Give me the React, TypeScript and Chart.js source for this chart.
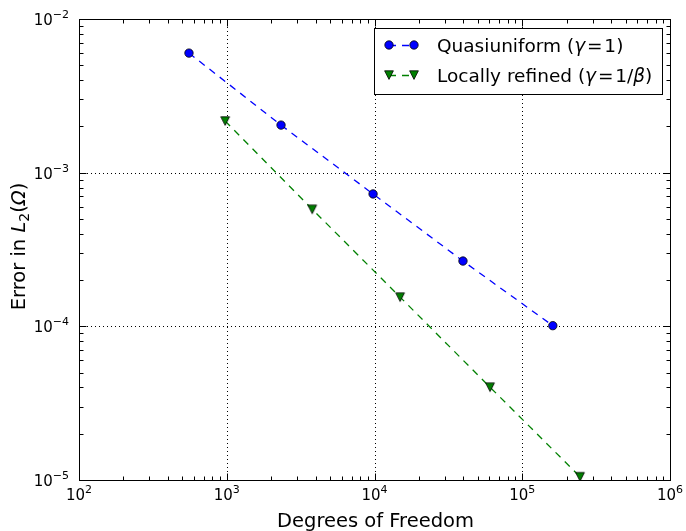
import React, { useEffect, useRef } from 'react';
import { Chart, registerables } from 'chart.js';

Chart.register(...registerables);

// ---- data ----
const dofQuasi = [555, 2330, 9780, 39700, 161000];
const errQuasi = [6.0e-3, 2.04e-3, 7.27e-4, 2.66e-4, 1.01e-4];
const dofLocal = [975, 3790, 14900, 60500, 246000];
const errLocal = [2.17e-3, 5.78e-4, 1.55e-4, 4.02e-5, 1.05e-5];
const xExponents = [2, 3, 4, 5, 6];
const yExponents = [-2, -3, -4, -5];
const xTitle = 'Degrees of Freedom';
const legendQuasi = [
  { t: 'Quasiuniform (', it: false },
  { t: 'γ', it: true },
  { t: '\u200A=\u200A1)', it: false },
];
const legendLocal = [
  { t: 'Locally refined (', it: false },
  { t: 'γ', it: true },
  { t: '\u200A=\u200A1/', it: false },
  { t: 'β', it: true },
  { t: ')', it: false },
];
const yTitle = [
  { t: 'Error in ', it: false, sub: false },
  { t: 'L', it: true, sub: false },
  { t: '2', it: false, sub: true },
  { t: '(', it: false, sub: false },
  { t: 'Ω', it: true, sub: false },
  { t: ')', it: false, sub: false },
];

const FONT = '"DejaVu Sans", sans-serif';
const BLUE = '#0000ff';
const GREEN = '#008000';

function makeTriangle(): HTMLCanvasElement {
  const c = document.createElement('canvas');
  c.width = 12;
  c.height = 12;
  const g = c.getContext('2d')!;
  g.beginPath();
  g.moveTo(1.6, 1.8);
  g.lineTo(10.4, 1.8);
  g.lineTo(6, 10.4);
  g.closePath();
  g.fillStyle = GREEN;
  g.fill();
  g.strokeStyle = '#000';
  g.lineWidth = 0.8;
  g.stroke();
  return c;
}

function drawPow(ctx: CanvasRenderingContext2D, exp: number, x: number, y: number, align: 'center' | 'right') {
  const base = '10';
  const sup = exp < 0 ? '\u2212' + String(-exp) : String(exp);
  const fb = `15px ${FONT}`;
  const fs = `11px ${FONT}`;
  ctx.font = fb;
  const wb = ctx.measureText(base).width;
  ctx.font = fs;
  const ws = ctx.measureText(sup).width;
  const total = wb + ws;
  const x0 = align === 'center' ? x - total / 2 : x - total;
  ctx.textAlign = 'left';
  ctx.textBaseline = 'alphabetic';
  ctx.fillStyle = '#000';
  ctx.font = fb;
  ctx.fillText(base, x0, y);
  ctx.font = fs;
  ctx.fillText(sup, x0 + wb, y - 7);
}

function drawRuns(ctx: CanvasRenderingContext2D, runs: { t: string; it: boolean; sub?: boolean }[], x: number, y: number, size: number, align: 'left' | 'center') {
  const fontFor = (r: { it: boolean; sub?: boolean }) =>
    `${r.it ? 'italic ' : ''}${r.sub ? Math.round(size * 0.7) : size}px ${FONT}`;
  let total = 0;
  runs.forEach((r) => {
    ctx.font = fontFor(r);
    total += ctx.measureText(r.t).width;
  });
  let cx = align === 'center' ? x - total / 2 : x;
  ctx.textAlign = 'left';
  ctx.textBaseline = 'alphabetic';
  ctx.fillStyle = '#000';
  runs.forEach((r) => {
    ctx.font = fontFor(r);
    ctx.fillText(r.t, cx, y + (r.sub ? size * 0.22 : 0));
    cx += ctx.measureText(r.t).width;
  });
}

const decorPlugin = {
  id: 'mplDecor',
  beforeDatasetsDraw(chart: any) {
    const { ctx, chartArea: a, scales } = chart;
    const xs = scales.x;
    const ys = scales.y;
    ctx.save();
    ctx.strokeStyle = '#000';
    ctx.lineWidth = 1;
    ctx.setLineDash([1, 3]);
    xExponents.forEach((e) => {
      const px = Math.round(xs.getPixelForValue(Math.pow(10, e))) + 0.5;
      if (px <= a.left + 2 || px >= a.right - 2) return;
      ctx.beginPath();
      ctx.moveTo(px, a.top);
      ctx.lineTo(px, a.bottom);
      ctx.stroke();
    });
    yExponents.forEach((e) => {
      const py = Math.round(ys.getPixelForValue(Math.pow(10, e))) + 0.5;
      if (py <= a.top + 2 || py >= a.bottom - 2) return;
      ctx.beginPath();
      ctx.moveTo(a.left, py);
      ctx.lineTo(a.right, py);
      ctx.stroke();
    });
    ctx.restore();
  },
  afterDraw(chart: any) {
    const { ctx, chartArea: a, scales } = chart;
    const xs = scales.x;
    const ys = scales.y;
    const L = Math.round(a.left) + 0.5;
    const R = Math.round(a.right) + 0.5;
    const T = Math.round(a.top) + 0.5;
    const B = Math.round(a.bottom) + 0.5;
    ctx.save();
    ctx.strokeStyle = '#000';
    ctx.lineWidth = 1;
    ctx.setLineDash([]);
    ctx.strokeRect(L, T, R - L, B - T);

    const MAJ = 7;
    const MIN = 4;
    // x ticks
    for (let i = 0; i < xExponents.length; i++) {
      const e = xExponents[i];
      const px = Math.round(xs.getPixelForValue(Math.pow(10, e))) + 0.5;
      ctx.beginPath();
      ctx.moveTo(px, B); ctx.lineTo(px, B - MAJ);
      ctx.moveTo(px, T); ctx.lineTo(px, T + MAJ);
      ctx.stroke();
      if (i < xExponents.length - 1) {
        for (let k = 2; k <= 9; k++) {
          const mx = Math.round(xs.getPixelForValue(k * Math.pow(10, e))) + 0.5;
          ctx.beginPath();
          ctx.moveTo(mx, B); ctx.lineTo(mx, B - MIN);
          ctx.moveTo(mx, T); ctx.lineTo(mx, T + MIN);
          ctx.stroke();
        }
      }
      drawPow(ctx, e, xs.getPixelForValue(Math.pow(10, e)), a.bottom + 20, 'center');
    }
    // y ticks
    const ySorted = [...yExponents].sort((p, q) => p - q);
    for (let i = 0; i < ySorted.length; i++) {
      const e = ySorted[i];
      const py = Math.round(ys.getPixelForValue(Math.pow(10, e))) + 0.5;
      ctx.beginPath();
      ctx.moveTo(L, py); ctx.lineTo(L + MAJ, py);
      ctx.moveTo(R, py); ctx.lineTo(R - MAJ, py);
      ctx.stroke();
      if (i < ySorted.length - 1) {
        for (let k = 2; k <= 9; k++) {
          const my = Math.round(ys.getPixelForValue(k * Math.pow(10, e))) + 0.5;
          ctx.beginPath();
          ctx.moveTo(L, my); ctx.lineTo(L + MIN, my);
          ctx.moveTo(R, my); ctx.lineTo(R - MIN, my);
          ctx.stroke();
        }
      }
      drawPow(ctx, e, a.left - 10, ys.getPixelForValue(Math.pow(10, e)) + 6, 'right');
    }

    // axis titles
    drawRuns(ctx, [{ t: xTitle, it: false }], (a.left + a.right) / 2 + 1, a.bottom + 47, 19.5, 'center');
    ctx.save();
    ctx.translate(25, (a.top + a.bottom) / 2 - 3);
    ctx.rotate(-Math.PI / 2);
    drawRuns(ctx, yTitle, 0, 0, 19.5, 'center');
    ctx.restore();

    // legend
    const bx = 374.5, by = 28.5, bw = 288, bh = 66;
    ctx.fillStyle = '#fff';
    ctx.fillRect(bx, by, bw, bh);
    ctx.strokeStyle = '#000';
    ctx.lineWidth = 1;
    ctx.strokeRect(bx, by, bw, bh);
    const entries = [
      { y: 45, color: BLUE, runs: legendQuasi, tri: false },
      { y: 75, color: GREEN, runs: legendLocal, tri: true },
    ];
    const tri = triImg;
    entries.forEach((en) => {
      ctx.save();
      ctx.strokeStyle = en.color;
      ctx.lineWidth = 1.3;
      ctx.setLineDash([7, 6]);
      ctx.lineDashOffset = 0;
      ctx.beginPath();
      ctx.moveTo(389, en.y + 0.5);
      ctx.lineTo(414, en.y + 0.5);
      ctx.stroke();
      ctx.restore();
      [389, 414].forEach((mx) => {
        if (en.tri) {
          ctx.drawImage(tri, mx - 6, en.y - 6);
        } else {
          ctx.beginPath();
          ctx.arc(mx, en.y, 4.2, 0, Math.PI * 2);
          ctx.fillStyle = BLUE;
          ctx.fill();
          ctx.strokeStyle = '#000';
          ctx.lineWidth = 0.8;
          ctx.stroke();
        }
      });
      drawRuns(ctx, en.runs, 437, en.y + 7, 18.5, 'left');
    });
    ctx.restore();
  },
};

let triImg: HTMLCanvasElement;

export default function App() {
  const ref = useRef<HTMLCanvasElement>(null);
  useEffect(() => {
    if (!ref.current) return;
    triImg = makeTriangle();
    const chart = new Chart(ref.current, {
      type: 'line',
      data: {
        datasets: [
          {
            label: 'Quasiuniform',
            data: dofQuasi.map((x, i) => ({ x, y: errQuasi[i] })),
            borderColor: BLUE,
            borderWidth: 1.3,
            borderDash: [7, 6],
            pointStyle: 'circle',
            pointRadius: 4.2,
            pointBackgroundColor: BLUE,
            pointBorderColor: '#000',
            pointBorderWidth: 0.8,
            tension: 0,
          },
          {
            label: 'Locally refined',
            data: dofLocal.map((x, i) => ({ x, y: errLocal[i] })),
            borderColor: GREEN,
            borderWidth: 1.3,
            borderDash: [7, 6],
            pointStyle: triImg as any,
            pointRadius: 5,
            pointBackgroundColor: GREEN,
            pointBorderColor: '#000',
            tension: 0,
          },
        ],
      },
      options: {
        responsive: false,
        maintainAspectRatio: false,
        devicePixelRatio: 1,
        animation: false,
        layout: { padding: { left: 0, right: 16, top: 19, bottom: 0 } },
        plugins: { legend: { display: false }, tooltip: { enabled: false } },
        scales: {
          x: {
            type: 'logarithmic',
            min: 100,
            max: 1e6,
            afterFit: (s: any) => { s.height = 51; },
            ticks: { display: false },
            grid: { display: false },
            border: { display: false },
          },
          y: {
            type: 'logarithmic',
            min: 1e-5,
            max: 1e-2,
            afterFit: (s: any) => { s.width = 79; },
            ticks: { display: false },
            grid: { display: false },
            border: { display: false },
          },
        },
      },
      plugins: [decorPlugin],
    } as any);
    return () => chart.destroy();
  }, []);
  return (
    <div style={{ position: 'absolute', left: 0, top: 0, width: 686, height: 531, background: '#fff' }}>
      <canvas ref={ref} width={686} height={531} style={{ display: 'block' }} />
    </div>
  );
}
